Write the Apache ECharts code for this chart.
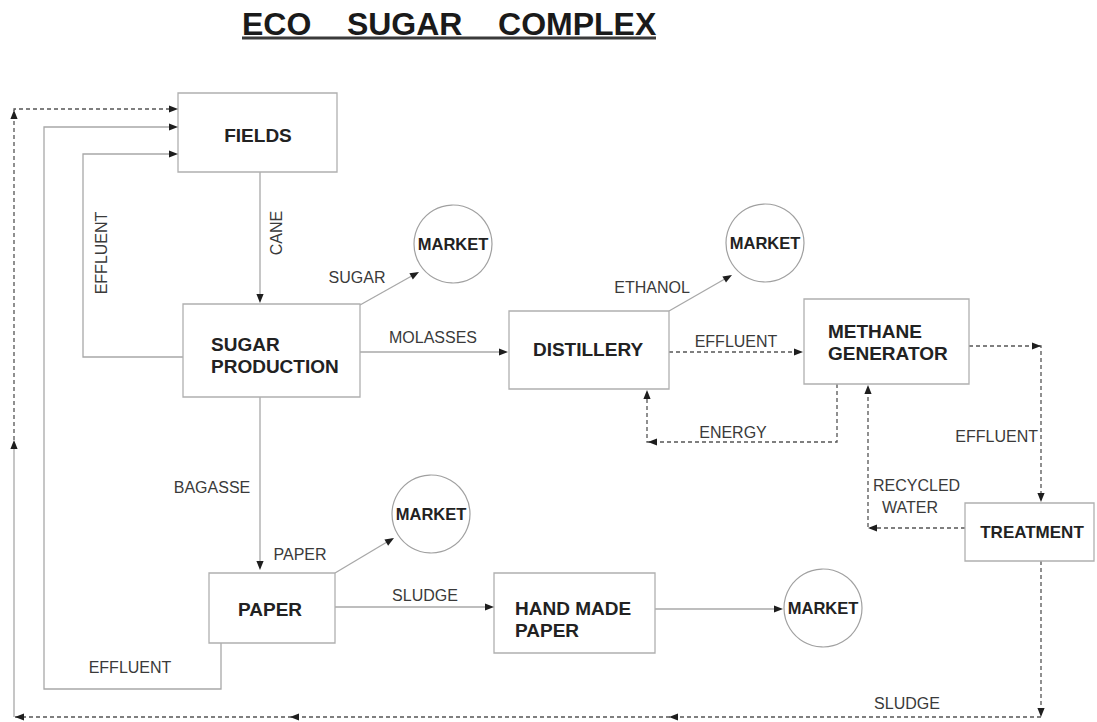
<!DOCTYPE html>
<html>
<head>
<meta charset="utf-8">
<script src="https://cdn.jsdelivr.net/npm/echarts@6/dist/echarts.min.js"></script>
<style>html,body{margin:0;padding:0;background:#fff}#c{width:1097px;height:722px}</style>
</head>
<body>
<div id="c"></div>
<script>
// ---- Diagram data (in a 1097 x 722 data space) ----
const titleText = 'ECO    SUGAR    COMPLEX';
const titleUnderline = [[242, 38], [656, 38]];

// process boxes
const boxNames  = ['FIELDS', 'SUGAR\nPRODUCTION', 'DISTILLERY', 'METHANE\nGENERATOR', 'TREATMENT', 'PAPER', 'HAND MADE\nPAPER'];
const boxX1     = [178, 183, 509, 804, 965, 209, 494];
const boxY1     = [93, 304, 311, 299, 503, 573, 573];
const boxX2     = [337, 360, 669, 969, 1094, 335, 655];
const boxY2     = [172, 397, 389, 384, 561, 643, 653];
const boxTextX  = [258, 211, 588, 828, 1032, 270, 515];
const boxTextY  = [135, 355, 349, 342, 532, 609, 619];
const boxAlign  = ['center', 'left', 'center', 'left', 'center', 'center', 'left'];
const boxFont   = [19, 19, 19, 19, 17, 19, 19];

// market circles
const marketName = 'MARKET';
const marketX = [453, 765, 431, 823];
const marketY = [244, 243, 514, 608];
const marketR = [39, 39, 39, 39];

// connector paths
const solidPaths = [
  [[260, 172], [260, 300]],                               // cane
  [[183, 357], [83, 357], [83, 154], [175, 154]],         // effluent (sugar -> fields)
  [[221, 643], [221, 689], [44, 689], [44, 127], [175, 127]], // effluent (paper -> fields)
  [[360, 305], [417, 273]],                               // sugar
  [[360, 352], [505, 352]],                               // molasses
  [[669, 311], [730, 276]],                               // ethanol
  [[260, 397], [260, 567]],                               // bagasse
  [[335, 573], [392, 539]],                               // paper
  [[335, 607], [491, 607]],                               // sludge
  [[655, 609], [780, 609]],                               // hand made -> market
  [[14, 717], [14, 443]]                                  // left return
];
const dashedPaths = [
  [[14, 440], [14, 109], [175, 109]],                     // return to fields
  [[1041, 717], [14, 717]],                               // bottom sludge return
  [[1041, 561], [1041, 714]],                             // treatment sludge
  [[669, 352], [800, 352]],                               // distillery effluent
  [[837, 384], [837, 442], [647, 442], [647, 393]],       // energy
  [[969, 346], [1041, 346], [1041, 499]],                 // methane effluent
  [[965, 528], [868, 528], [868, 388]]                    // recycled water
];

// arrow heads: tip x, tip y, direction (deg, 0 = right, 90 = down)
const arrowX   = [260, 178, 178, 178, 14, 14, 15, 290, 669, 1041, 419, 508, 732, 803, 648, 647, 1041, 1041, 868, 868, 260, 394, 494, 783];
const arrowY   = [303, 154, 127, 109, 110, 440, 717, 717, 717, 717, 272, 352, 275, 352, 442, 390, 346, 502, 528, 385, 570, 538, 607, 609];
const arrowDir = [90, 0, 0, 0, -90, -90, 180, 180, 180, 90, -29, 0, -30, 0, 180, -90, 0, 90, 180, -90, 90, -31, 0, 0];

// flow labels
const labelText = ['CANE', 'EFFLUENT', 'SUGAR', 'MOLASSES', 'ETHANOL', 'EFFLUENT', 'ENERGY', 'EFFLUENT', 'RECYCLED', 'WATER', 'BAGASSE', 'PAPER', 'SLUDGE', 'EFFLUENT', 'SLUDGE'];
const labelX    = [276, 101, 357, 433, 652, 736, 733, 1038, 873, 882, 212, 300, 425, 130, 907];
const labelY    = [233, 253, 277, 337, 287, 341, 432, 436, 485, 507, 487, 554, 595, 667, 703];
const labelRot  = [90, 90, 0, 0, 0, 0, 0, 0, 0, 0, 0, 0, 0, 0, 0];
const labelAlign = ['center', 'center', 'center', 'center', 'center', 'center', 'center', 'right', 'left', 'left', 'center', 'center', 'center', 'center', 'center'];

// ---- Build chart ----
const chart = echarts.init(document.getElementById('c'), null, {renderer: 'svg'});
const BOLD = '"Liberation Sans", Arial, sans-serif';

const option = {
  backgroundColor: '#ffffff',
  animation: false,
  title: {
    text: titleText,
    left: 242,
    top: 8,
    padding: 0,
    textStyle: {fontFamily: BOLD, fontWeight: 'bold', fontSize: 32, color: '#1a1a1a'}
  },
  grid: {left: 0, right: 0, top: 0, bottom: 0},
  xAxis: {type: 'value', min: 0, max: 1097, show: false},
  yAxis: {type: 'value', min: 0, max: 722, inverse: true, show: false},
  series: [
    {
      type: 'lines', name: 'underline', coordinateSystem: 'cartesian2d', polyline: true, silent: true,
      lineStyle: {color: '#3a3a3a', width: 3, opacity: 1},
      data: [{coords: titleUnderline}]
    },
    {
      type: 'lines', name: 'solid flows', coordinateSystem: 'cartesian2d', polyline: true, silent: true,
      lineStyle: {color: '#a8a8a8', width: 1.3, opacity: 1},
      data: solidPaths.map(p => ({coords: p}))
    },
    {
      type: 'lines', name: 'dashed flows', coordinateSystem: 'cartesian2d', polyline: true, silent: true,
      lineStyle: {color: '#555555', width: 1.3, type: [4, 3], opacity: 1},
      data: dashedPaths.map(p => ({coords: p}))
    },
    {
      type: 'custom', name: 'boxes', coordinateSystem: 'cartesian2d', silent: true,
      data: boxNames.map((n, i) => [boxX1[i], boxY1[i], boxX2[i], boxY2[i], boxTextX[i], boxTextY[i]]),
      renderItem: function (params, api) {
        const i = params.dataIndex;
        const p1 = api.coord([api.value(0), api.value(1)]);
        const p2 = api.coord([api.value(2), api.value(3)]);
        const t = api.coord([api.value(4), api.value(5)]);
        return {
          type: 'group',
          children: [
            {type: 'rect', shape: {x: p1[0], y: p1[1], width: p2[0] - p1[0], height: p2[1] - p1[1]},
             style: {fill: '#ffffff', stroke: '#b0b0b0', lineWidth: 1.3}},
            {type: 'text', x: t[0], y: t[1],
             style: {text: boxNames[i], fontFamily: BOLD, fontWeight: 'bold', fontSize: boxFont[i],
                     lineHeight: 22, fill: '#222222', align: boxAlign[i], verticalAlign: 'middle'}}
          ]
        };
      }
    },
    {
      type: 'custom', name: 'markets', coordinateSystem: 'cartesian2d', silent: true,
      data: marketX.map((x, i) => [x, marketY[i], marketR[i]]),
      renderItem: function (params, api) {
        const c = api.coord([api.value(0), api.value(1)]);
        const r = api.size([api.value(2), api.value(2)])[0];
        return {
          type: 'group',
          children: [
            {type: 'circle', shape: {cx: c[0], cy: c[1], r: r}, style: {fill: '#ffffff', stroke: '#a0a0a0', lineWidth: 1.2}},
            {type: 'text', x: c[0], y: c[1],
             style: {text: marketName, fontFamily: BOLD, fontWeight: 'bold', fontSize: 16.5, fill: '#222222',
                     align: 'center', verticalAlign: 'middle'}}
          ]
        };
      }
    },
    {
      type: 'custom', name: 'arrows', coordinateSystem: 'cartesian2d', silent: true,
      data: arrowX.map((x, i) => [x, arrowY[i], arrowDir[i]]),
      renderItem: function (params, api) {
        const p = api.coord([api.value(0), api.value(1)]);
        const a = api.value(2) * Math.PI / 180;
        const L = 9, W = 3.6;
        const ca = Math.cos(a), sa = Math.sin(a);
        const bx = p[0] - L * ca, by = p[1] - L * sa;
        return {
          type: 'polygon',
          shape: {points: [[p[0], p[1]], [bx - W * sa, by + W * ca], [bx + W * sa, by - W * ca]]},
          style: {fill: '#1e1e1e', stroke: 'none'}
        };
      }
    },
    {
      type: 'custom', name: 'labels', coordinateSystem: 'cartesian2d', silent: true,
      data: labelText.map((t, i) => [labelX[i], labelY[i], labelRot[i]]),
      renderItem: function (params, api) {
        const i = params.dataIndex;
        const p = api.coord([api.value(0), api.value(1)]);
        return {
          type: 'text', x: p[0], y: p[1], rotation: api.value(2) * Math.PI / 180,
          style: {text: labelText[i], fontFamily: '"Liberation Sans", Arial, sans-serif', fontSize: 16,
                  fill: '#3a3a3a', align: labelAlign[i], verticalAlign: 'middle'}
        };
      }
    }
  ]
};
chart.setOption(option);
</script>
</body>
</html>
